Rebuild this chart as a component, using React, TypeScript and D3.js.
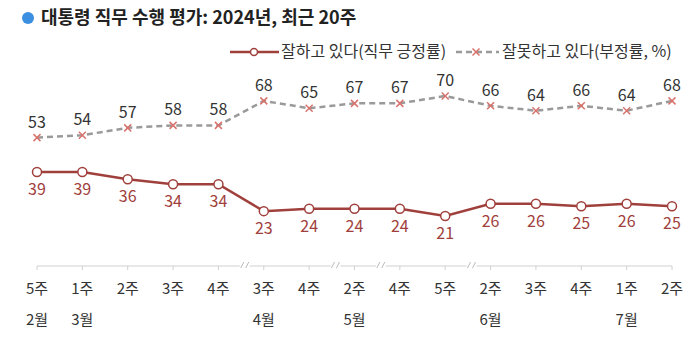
import React from "react";
import * as d3 from "d3";

const weeks = ["5주", "1주", "2주", "3주", "4주", "3주", "4주", "2주", "4주", "5주", "2주", "3주", "4주", "1주", "2주"];
const months = ["2월", "3월", "", "", "", "4월", "", "5월", "", "", "6월", "", "", "7월", ""];
const approve = [39, 39, 36, 34, 34, 23, 24, 24, 24, 21, 26, 26, 25, 26, 25];
const disapprove = [53, 54, 57, 58, 58, 68, 65, 67, 67, 70, 66, 64, 66, 64, 68];
// break marks placed after these category indices
const breaksAfter = [4, 6, 7, 9];

const FONT = "'Noto Sans CJK KR', 'Noto Sans', sans-serif";
const RED = "#a0403c";
const XRED = "#d9736e";
const GRAY = "#9a9a9a";

export default function App() {
  const W = 700, H = 357;
  const x = d3.scalePoint<number>().domain(d3.range(weeks.length)).range([37, 672]);
  const y = d3.scaleLinear().domain([0, 100]).range([267.5, 22.5]);
  const axisY = 266;

  const lineA = d3.line<number>().x((_, i) => x(i)!).y((d) => y(d));
  const step = x.step();

  return (
    <svg width={W} height={H} style={{ position: "absolute", left: 0, top: 0, background: "#fff" }} fontFamily={FONT}>
      {/* title */}
      <circle cx={28} cy={18} r={6} fill="#3b8fe0" />
      <text x={41} y={24} fontSize={18} fontWeight="bold" fill="#222">대통령 직무 수행 평가: 2024년, 최근 20주</text>

      {/* legend */}
      <line x1={230} y1={52} x2={279} y2={52} stroke={RED} strokeWidth={2.5} />
      <circle cx={254} cy={52} r={3.5} fill="#fff" stroke={RED} strokeWidth={1.5} />
      <text x={281} y={57} fontSize={16} fill="#333">잘하고 있다(직무 긍정률)</text>
      <line x1={456} y1={52} x2={499} y2={52} stroke={GRAY} strokeWidth={2.5} strokeDasharray="6,4" />
      <g transform="translate(476,52)" stroke={XRED} strokeWidth={1.5}>
        <line x1={-3.5} y1={-3.5} x2={3.5} y2={3.5} />
        <line x1={-3.5} y1={3.5} x2={3.5} y2={-3.5} />
      </g>
      <text x={502} y={57} fontSize={16} fill="#333">잘못하고 있다(부정률, %)</text>

      {/* axis */}
      <line x1={x(0)} y1={axisY} x2={x(weeks.length - 1)} y2={axisY} stroke="#d0d0d0" strokeWidth={1} />
      {weeks.map((_, i) => (
        <line key={"t" + i} x1={x(i)} y1={axisY} x2={x(i)} y2={axisY + 4} stroke="#d0d0d0" />
      ))}
      {breaksAfter.map((b) => {
        const cx = x(b)! + step * 0.58;
        return (
          <g key={"b" + b}>
            <rect x={cx - 5} y={axisY - 4} width={10} height={8} fill="#fff" />
            <line x1={cx - 4} y1={axisY + 2} x2={cx - 1} y2={axisY - 4} stroke="#bbb" strokeWidth={1} />
            <line x1={cx + 1} y1={axisY + 2} x2={cx + 4} y2={axisY - 4} stroke="#bbb" strokeWidth={1} />
          </g>
        );
      })}
      {weeks.map((w, i) => (
        <text key={"w" + i} x={x(i)} y={294} fontSize={15} textAnchor="middle" fill="#333">{w}</text>
      ))}
      {months.map((m, i) =>
        m ? (
          <text key={"m" + i} x={x(i)} y={325} fontSize={15} textAnchor="middle" fill="#333">{m}</text>
        ) : null
      )}

      {/* disapprove */}
      <path d={lineA(disapprove) || ""} fill="none" stroke={GRAY} strokeWidth={2.5} strokeDasharray="6,4" />
      {disapprove.map((v, i) => (
        <g key={"d" + i} transform={`translate(${x(i)},${y(v)})`} stroke={XRED} strokeWidth={1.5}>
          <line x1={-3.5} y1={-3.5} x2={3.5} y2={3.5} />
          <line x1={-3.5} y1={3.5} x2={3.5} y2={-3.5} />
        </g>
      ))}
      {disapprove.map((v, i) => (
        <text key={"dl" + i} x={x(i)} y={y(v) - 10} fontSize={16} textAnchor="middle" fill="#333">{v}</text>
      ))}

      {/* approve */}
      <path d={lineA(approve) || ""} fill="none" stroke={RED} strokeWidth={2.5} />
      {approve.map((v, i) => (
        <circle key={"a" + i} cx={x(i)} cy={y(v)} r={4.5} fill="#fff" stroke={RED} strokeWidth={1.5} />
      ))}
      {approve.map((v, i) => (
        <text key={"al" + i} x={x(i)} y={y(v) + 23} fontSize={16} textAnchor="middle" fill={RED}>{v}</text>
      ))}
    </svg>
  );
}
